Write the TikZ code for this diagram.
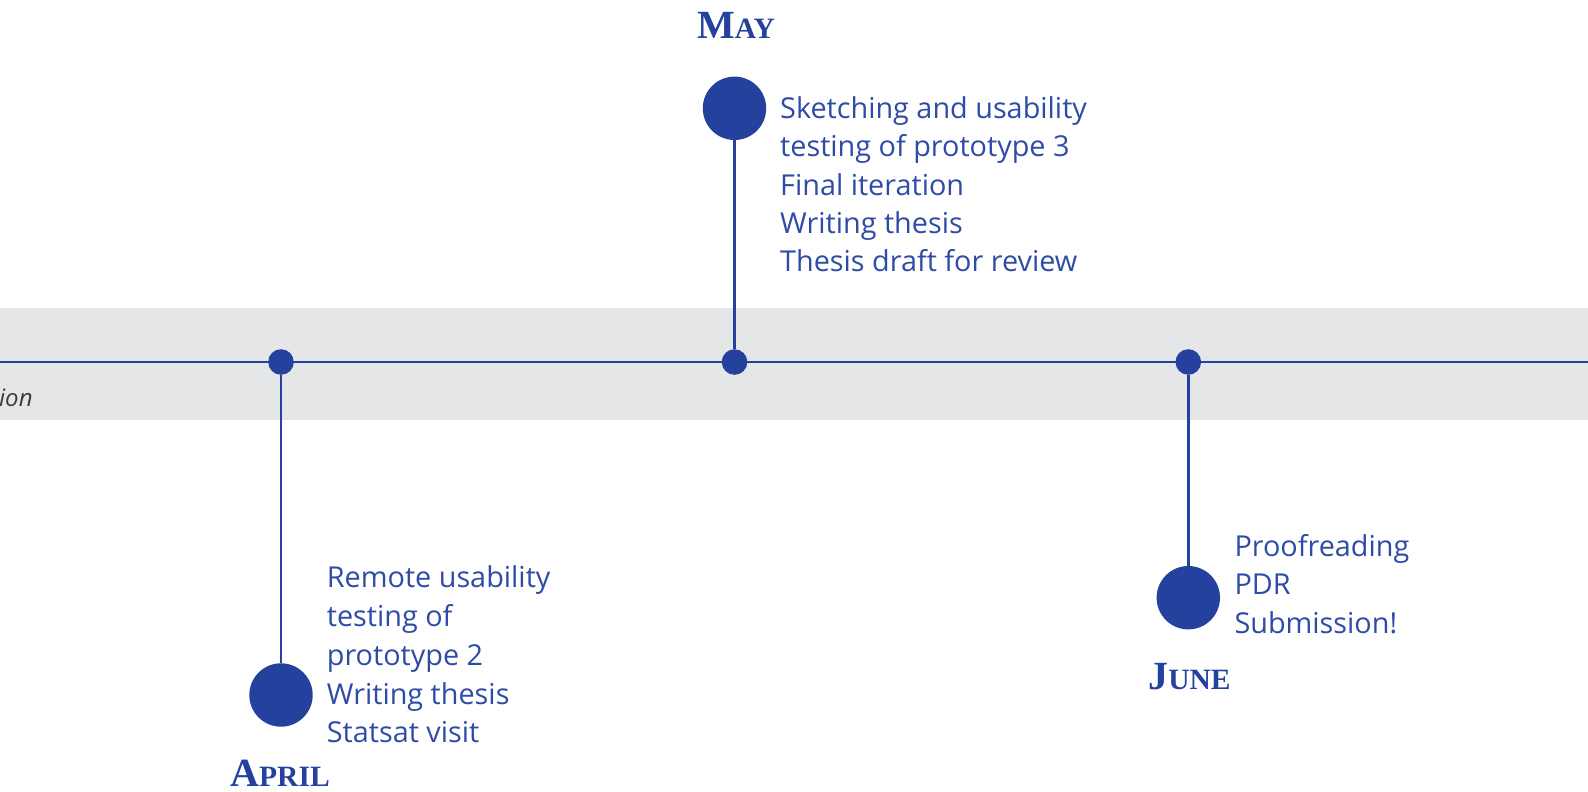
\documentclass[tikz,border=0pt]{standalone}
\usepackage{fontspec}
\newfontfamily\bodyfont{Open Sans}
\newfontfamily\labelfont{Liberation Serif}
\definecolor{tlblue}{HTML}{24419E}
\definecolor{txtblue}{HTML}{2E4BA6}
\definecolor{bandgray}{HTML}{E5E6E8}
\definecolor{notegray}{HTML}{3C3C3C}
\newcommand{\fakesc}[2]{{\fontsize{40}{40}\selectfont #1}{\fontsize{29.5}{29.5}\selectfont #2}}
\begin{document}
\begin{tikzpicture}[x=1pt,y=-1pt,
  tline/.style={draw=tlblue,line width=2.7pt},
  smalldot/.style={circle,fill=tlblue,minimum size=25.6pt,inner sep=0pt},
  bigdot/.style={circle,fill=tlblue,minimum size=63.4pt,inner sep=0pt},
  monthlabel/.style={text=tlblue,font=\labelfont\bfseries,inner sep=0pt,anchor=base},
  itemtext/.style={text=txtblue,inner sep=0pt,anchor=base west},
  note/.style={text=notegray,font=\bodyfont\itshape\fontsize{24}{24}\selectfont,inner sep=0pt,anchor=base west}
]
\useasboundingbox (0,0) rectangle (1588,792);
\fill[bandgray] (0,308) rectangle (1588,420);
% main timeline
\coordinate (L) at (0,362);
\coordinate (R) at (1588,362);
\draw[tline] (L) -- (R);
% small dots on the line
\node[smalldot] (aprdot) at (281,362) {};
\node[smalldot] (maydot) at (734.5,362) {};
\node[smalldot] (jundot) at (1188.3,362) {};
% big dots
\node[bigdot] (maybig) at (734.5,108.3) {};
\node[bigdot] (aprbig) at (281,695) {};
\node[bigdot] (junbig) at (1188.3,597.7) {};
% stems
\draw[tline] (maybig) -- (maydot);
\draw[tline] (aprdot) -- (aprbig);
\draw[tline] (jundot) -- (junbig);
% month labels
\node[monthlabel] (maylbl) at (736,39) {\fakesc{M}{AY}};
\node[monthlabel] (aprlbl) at (280,786) {\fakesc{A}{PRIL}};
\node[monthlabel] (junlbl) at (1189.5,689) {\fakesc{J}{UNE}};
% items
\node[itemtext] (mayitems) at (780,118.3) {\parbox[t]{12cm}{\bodyfont\fontsize{28.8}{38.4}\selectfont\raggedright
Sketching and usability\\ testing of prototype 3\\ Final iteration\\ Writing thesis\\ Thesis draft for review}};
\node[itemtext] (apritems) at (326.7,587.7) {\parbox[t]{12cm}{\bodyfont\fontsize{28.8}{38.8}\selectfont\raggedright
Remote usability\\ testing of\\ prototype 2\\ Writing thesis\\ Statsat visit}};
\node[itemtext] (junitems) at (1234.3,556) {\parbox[t]{12cm}{\bodyfont\fontsize{28.8}{38.6}\selectfont\raggedright
Proofreading\\ PDR\\ Submission!}};
% cut-off note on the band
\node[note] (note) at (-1,406) {ion};
\end{tikzpicture}
\end{document}
